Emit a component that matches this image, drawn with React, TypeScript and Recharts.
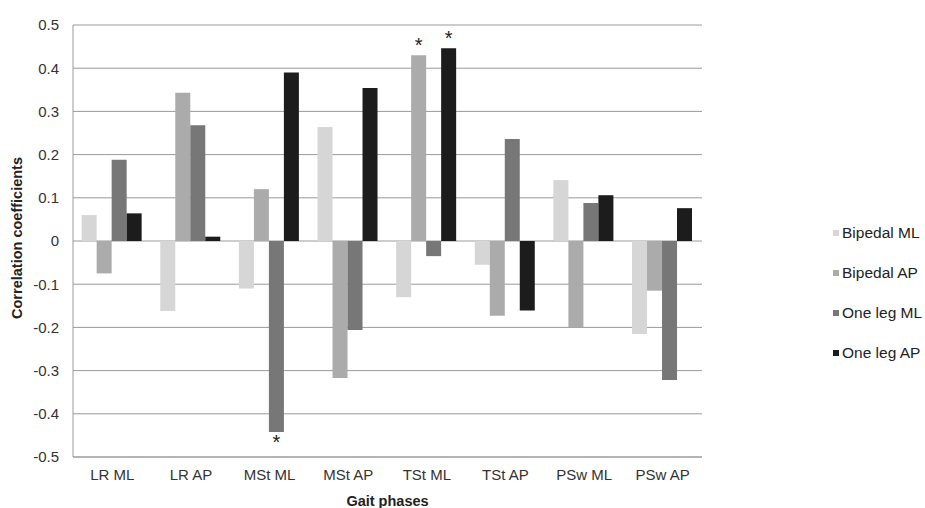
import React from 'react';
import { BarChart, Bar, XAxis, YAxis, CartesianGrid, Legend, LabelList } from 'recharts';

const phases = ['LR ML', 'LR AP', 'MSt ML', 'MSt AP', 'TSt ML', 'TSt AP', 'PSw ML', 'PSw AP'];
const bipedalML = [0.06, -0.162, -0.11, 0.264, -0.13, -0.055, 0.141, -0.215];
const bipedalAP = [-0.075, 0.343, 0.12, -0.317, 0.43, -0.173, -0.199, -0.115];
const oneLegML = [0.188, 0.268, -0.442, -0.206, -0.035, 0.236, 0.088, -0.322];
const oneLegAP = [0.064, 0.01, 0.39, 0.354, 0.446, -0.161, 0.106, 0.076];
const yTicks = [-0.5, -0.4, -0.3, -0.2, -0.1, 0, 0.1, 0.2, 0.3, 0.4, 0.5];

// fases marcadas con asterisco, por serie
const sigBipedalML: string[] = [];
const sigBipedalAP = ['TSt ML'];
const sigOneLegML = ['MSt ML'];
const sigOneLegAP = ['TSt ML'];

const series = [
  { key: 'bipedalML', name: 'Bipedal ML', color: '#d6d6d6', sig: sigBipedalML },
  { key: 'bipedalAP', name: 'Bipedal AP', color: '#ababab', sig: sigBipedalAP },
  { key: 'oneLegML', name: 'One leg ML', color: '#777777', sig: sigOneLegML },
  { key: 'oneLegAP', name: 'One leg AP', color: '#1c1c1c', sig: sigOneLegAP },
];

const datos = phases.map((phase, i) => ({
  phase,
  bipedalML: bipedalML[i],
  bipedalAP: bipedalAP[i],
  oneLegML: oneLegML[i],
  oneLegAP: oneLegAP[i],
}));

const FONT = '"Liberation Sans", Arial, sans-serif';

const makeStar = (sig: string[]) => (props: any) => {
  const { x, y, width, height, value, index } = props;
  if (!sig.includes(phases[index])) return null;
  const top = Math.min(y, y + height);
  const bottom = Math.max(y, y + height);
  const cx = x + width / 2;
  const ty = value >= 0 ? top - 3 : bottom + 17;
  return (
    <text x={cx} y={ty} textAnchor="middle" fontSize={20} fontFamily={FONT} fill="#222">
      *
    </text>
  );
};

const LegendBox = () => (
  <div style={{ fontFamily: FONT, fontSize: 15.5, color: '#222' }}>
    {series.map((s) => (
      <div key={s.key} style={{ display: 'flex', alignItems: 'center', height: 40, whiteSpace: 'nowrap' }}>
        <span style={{ width: 6, height: 6, background: s.color, marginRight: 3, display: 'inline-block' }} />
        {s.name}
      </div>
    ))}
  </div>
);

const YTitle = (props: any) => {
  const vb = props.viewBox || { x: 0, y: 0, height: 0 };
  const cx = vb.x + 17;
  const cy = vb.y + vb.height / 2 - 3;
  return (
    <text
      x={cx}
      y={cy}
      transform={`rotate(-90 ${cx} ${cy})`}
      textAnchor="middle"
      dominantBaseline="central"
      fontFamily={FONT}
      fontWeight="bold"
      fontSize={14.5}
      fill="#222"
    >
      Correlation coefficients
    </text>
  );
};

export default function App() {
  return (
    <div style={{ position: 'absolute', left: 0, top: 0, width: 925, height: 508, background: '#fff', overflow: 'hidden' }}>
      <BarChart
        width={925}
        height={508}
        data={datos}
        margin={{ top: 25, right: 123, left: 0, bottom: 0 }}
        barCategoryGap="11%"
        barGap={0}
      >
        <CartesianGrid vertical={false} stroke="#9a9a9a" />
        <XAxis
          dataKey="phase"
          height={51}
          tickLine={false}
          tickSize={0}
          tickMargin={12}
          axisLine={{ stroke: '#9a9a9a' }}
          tick={{ fontSize: 15, fontFamily: FONT, fill: '#333' }}
          interval={0}
          label={{ value: 'Gait phases', position: 'insideBottom', offset: 2, fontSize: 14.5, fontWeight: 'bold', fontFamily: FONT, fill: '#222' }}
        />
        <YAxis
          width={73}
          domain={[-0.5, 0.5]}
          ticks={yTicks}
          tickLine={false}
          tickSize={0}
          tickMargin={14}
          axisLine={{ stroke: '#9a9a9a' }}
          tick={{ fontSize: 15, fontFamily: FONT, fill: '#333' }}
          tickFormatter={(v: number) => (v === 0 ? '0' : v.toFixed(1))}
          label={{ content: YTitle }}
        />
        <Legend
          layout="vertical"
          align="right"
          verticalAlign="top"
          content={<LegendBox />}
          wrapperStyle={{ left: 833, top: 213, width: 100 }}
        />
        {series.map((s) => (
          <Bar key={s.key} dataKey={s.key} name={s.name} fill={s.color} isAnimationActive={false}>
            <LabelList dataKey={s.key} content={makeStar(s.sig)} />
          </Bar>
        ))}
      </BarChart>
    </div>
  );
}
